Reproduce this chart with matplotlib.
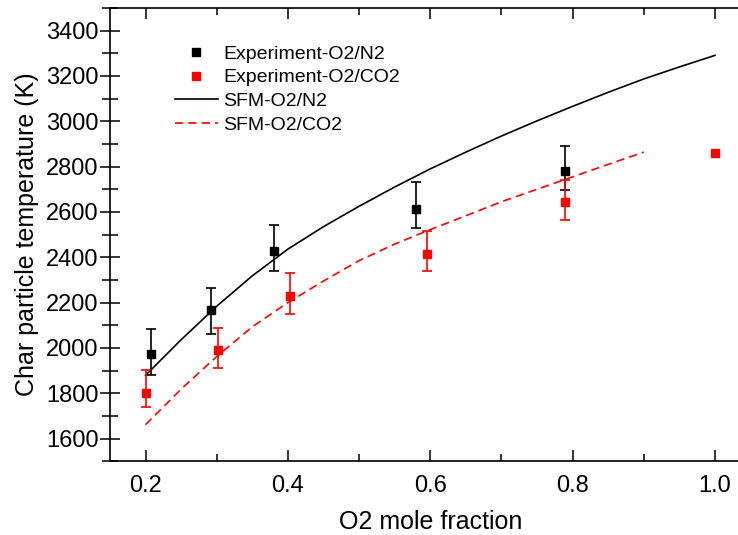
import matplotlib.pyplot as plt
from matplotlib.ticker import MultipleLocator

plt.rcParams['font.family'] = ['Liberation Sans', 'DejaVu Sans']

#%% data
# experiments, O2/N2
x_n2 = [0.207, 0.292, 0.380, 0.580, 0.790]
t_n2 = [1974, 2165, 2426, 2615, 2781]
up_n2 = [110, 99, 117, 119, 108]
dn_n2 = [92, 102, 88, 86, 85]

# experiments, O2/CO2 (last point has no error bar)
x_co2 = [0.201, 0.302, 0.403, 0.596, 0.790, 1.0]
t_co2 = [1801, 1989, 2231, 2414, 2643, 2862]
up_co2 = [103, 98, 99, 102, 98, 0]
dn_co2 = [63, 78, 81, 76, 79, 0]

# SFM model curves
xm_n2 = [0.20, 0.25, 0.30, 0.35, 0.40, 0.45, 0.50, 0.55, 0.60, 0.65, 0.70,
         0.75, 0.80, 0.85, 0.90, 0.95, 1.00]
tm_n2 = [1879, 2036, 2184, 2318, 2436, 2535, 2625, 2710, 2790, 2864, 2935,
         3002, 3066, 3128, 3187, 3240, 3291]

xm_co2 = [0.20, 0.25, 0.30, 0.35, 0.40, 0.45, 0.50, 0.55, 0.60, 0.65, 0.70,
          0.75, 0.80, 0.85, 0.90]
tm_co2 = [1661, 1818, 1962, 2093, 2200, 2295, 2385, 2458, 2522, 2583, 2645,
          2700, 2755, 2810, 2864]

#%% plot
fig = plt.figure(figsize=(7.38, 5.35), dpi=100)
ax = fig.add_axes([0.149, 0.138, 0.868, 0.847])

ax.plot(xm_n2, tm_n2, color='black', lw=1.2, label='SFM-O2/N2')
ax.plot(xm_co2, tm_co2, color='red', lw=1.2, ls=(0, (5, 3)), label='SFM-O2/CO2')

ax.errorbar(x_n2, t_n2, yerr=[dn_n2, up_n2], fmt='none', ecolor='black',
            elinewidth=1.2, capsize=3.3, capthick=1.2)
ax.errorbar(x_co2[:-1], t_co2[:-1], yerr=[dn_co2[:-1], up_co2[:-1]], fmt='none',
            ecolor='red', elinewidth=1.2, capsize=3.3, capthick=1.2)
ax.plot(x_n2, t_n2, ls='none', marker='s', ms=6.2, color='black',
        label='Experiment-O2/N2')
ax.plot(x_co2, t_co2, ls='none', marker='s', ms=6.2, color='red',
        label='Experiment-O2/CO2')

ax.set_xlim(0.15, 1.05)
ax.set_ylim(1500, 3500)
ax.xaxis.set_minor_locator(MultipleLocator(0.1))
ax.yaxis.set_major_locator(MultipleLocator(200))
ax.yaxis.set_minor_locator(MultipleLocator(100))
ax.set_xticks([0.2, 0.4, 0.6, 0.8, 1.0])
ax.set_xticklabels(['0.2', '0.4', '0.6', '0.8', '1.0'])

ax.tick_params(axis='x', which='both', direction='in', top=True, labelsize=17,
               width=1.1, pad=10)
ax.tick_params(axis='x', which='major', length=8)
ax.tick_params(axis='x', which='minor', length=5)
ax.tick_params(axis='y', which='both', direction='inout', labelsize=17,
               width=1.1, pad=1)
ax.tick_params(axis='y', which='major', length=14)
ax.tick_params(axis='y', which='minor', length=12)
for s in ax.spines.values():
    s.set_linewidth(1.2)

ax.set_xlabel('O2 mole fraction', fontsize=18, labelpad=9)
ax.set_ylabel('Char particle temperature (K)', fontsize=18, labelpad=5)

h, l = ax.get_legend_handles_labels()
order = [2, 3, 0, 1]
ax.legend([h[i] for i in order], [l[i] for i in order], loc='upper left',
          bbox_to_anchor=(175 / 738, 1 - 45 / 535), bbox_transform=fig.transFigure,
          frameon=False, fontsize=14, handlelength=2.2, handletextpad=0.3,
          labelspacing=0.32, borderpad=0, borderaxespad=0)

plt.savefig('out.png', dpi=100)
